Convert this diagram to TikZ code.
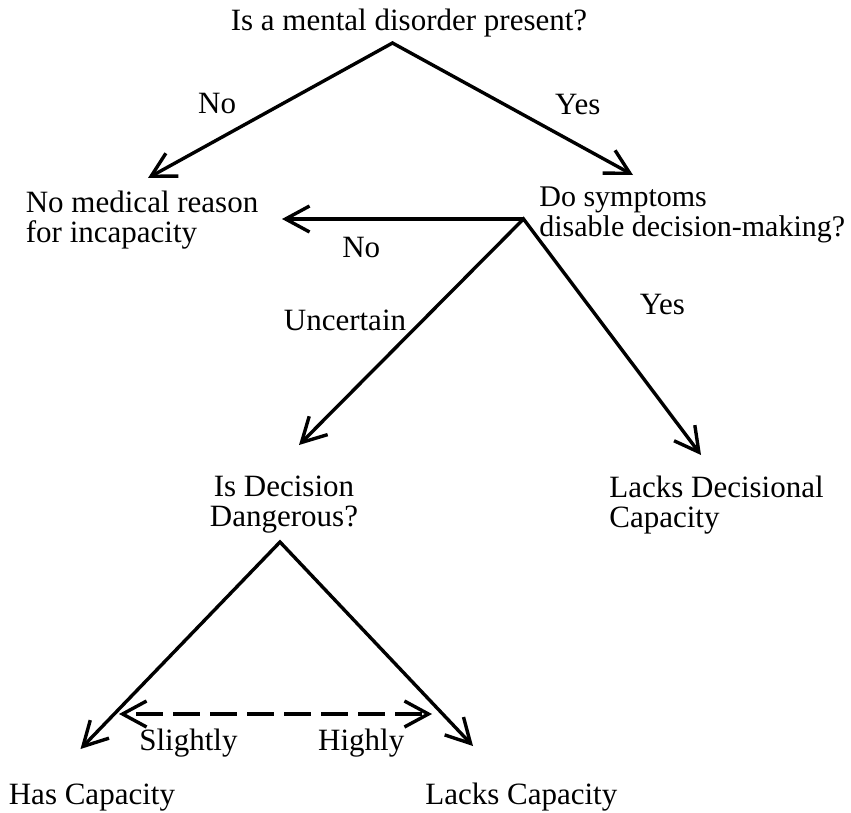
\documentclass[tikz,border=0pt]{standalone}
\usepackage{fontspec}
\setmainfont{Liberation Serif}
\usetikzlibrary{arrows.meta, positioning}

\begin{document}
\begin{tikzpicture}[x=0.5pt, y=-0.5pt, line width=1.7pt,
		>={Straight Barb[length=12pt,width=13pt]},
		every node/.style={font=\fontsize{15.5}{15}\selectfont},
		question/.style={align=left}]
		\useasboundingbox (0,0) rectangle (851,813);

		% questions and outcomes
		\node[anchor=base] (q1) at (409,31) {Is a mental disorder present?};
		\node[question, anchor=west] (nomed) at (17.5,220) {No medical reason\\for incapacity};
		\node[question, anchor=west, font=\fontsize{15}{15}\selectfont] (q2) at (531,215) {Do symptoms\\disable decision-making?};
		\node[align=center] (q3) at (284,505) {Is Decision\\Dangerous?};
		\node[question, anchor=west] (lackdec) at (601,505) {Lacks Decisional\\Capacity};
		\node[anchor=base west] (has) at (0.5,804) {Has Capacity};
		\node[anchor=base west] (lacks) at (417,804) {Lacks Capacity};

		% branch points and arrow ends
		\coordinate (v1) at (392.5,43);
		\coordinate (v2) at (523.5,219);
		\coordinate (v3) at (280,542);
		\coordinate (e1) at (148,178);
		\coordinate (e2) at (633,175);
		\coordinate (e3) at (282,219);
		\coordinate (e4) at (299,445);
		\coordinate (e5) at (701,455);
		\coordinate (e6) at (80.5,749);
		\coordinate (e7) at (473,746);
		\coordinate (d1) at (119,714);
		\coordinate (d2) at (432,714);

		\draw[<->] (e1) -- node[pos=0.4, above left=1pt] (l1) {No} (v1)
			-- node[pos=0.63, above right=2pt] (l2) {Yes} (e2);
		\draw[->] (v2) -- node[pos=0.672, below=4.7pt] (l3) {No} (e3);
		\draw[<->] (e4) -- node[pos=0.55, left=4pt] (l4) {Uncertain} (v2)
			-- node[pos=0.364, right=21.7pt] (l5) {Yes} (e5);
		\draw[<->] (e6) -- (v3) -- (e7);
		\draw[<->, dash pattern=on 13.5pt off 5pt, dash phase=12.5pt] (d1)
			-- node[pos=0.222, below=3.5pt] (l6) {Slightly}
			node[pos=0.774, below=3.5pt] (l7) {Highly} (d2);
	\end{tikzpicture}
\end{document}
